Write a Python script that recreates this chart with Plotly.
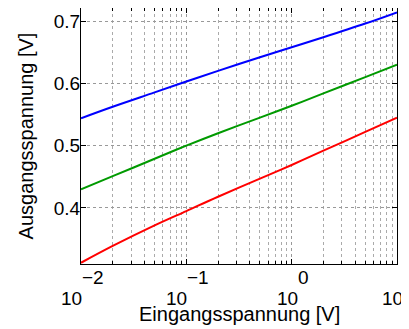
import numpy as np
import plotly.graph_objects as go

# Data
x_in = [0.01, 0.02, 0.05, 0.1, 0.2, 0.5, 1, 2, 5, 10]
v_blue = [0.544, 0.5625, 0.5855, 0.603, 0.620, 0.642, 0.658, 0.674, 0.696, 0.714]
v_green = [0.430, 0.451, 0.479, 0.500, 0.520, 0.545, 0.564, 0.584, 0.610, 0.630]
v_red = [0.312, 0.339, 0.372, 0.395, 0.418, 0.447, 0.469, 0.492, 0.522, 0.545]

x_ticks = [0.01, 0.1, 1, 10]
x_exp = ["\u22122", "\u22121", "0", "1"]
y_ticks = [0.4, 0.5, 0.6, 0.7]
y_ticktext = ["0.4", "0.5", "0.6", "0.7"]
x_title = "Eingangsspannung [V]"
y_title = "Ausgangsspannung [V]"

FONT = "Liberation Sans, Arial, sans-serif"
FS = 19

fig = go.Figure()
for vals, col in [(v_blue, "#0000ff"), (v_green, "#009a00"), (v_red, "#ff0000")]:
    fig.add_trace(go.Scatter(x=x_in, y=vals, mode="lines",
                             line=dict(color=col, width=2, shape="spline", smoothing=1.0),
                             showlegend=False, hoverinfo="skip"))

minor_vals = [m * 10.0 ** d for d in (-2, -1, 0) for m in range(2, 10)]

fig.update_xaxes(type="log", range=[-2, 1], tickvals=x_ticks, showticklabels=False,
                 automargin=False,
                 ticks="inside", ticklen=5, tickcolor="black",
                 showline=True, linecolor="black", linewidth=1, mirror="ticks",
                 showgrid=True, gridcolor="#999999", griddash="dot", gridwidth=1,
                 minor=dict(tickvals=minor_vals, ticks="inside", ticklen=3, tickcolor="black",
                            showgrid=True, gridcolor="#aaaaaa", griddash="dot", gridwidth=1),
                 zeroline=False)
fig.update_yaxes(range=[0.31, 0.721], tickvals=y_ticks, ticktext=y_ticktext,
                 automargin=False,
                 ticks="inside", ticklen=5, tickcolor="black",
                 tickfont=dict(family=FONT, size=FS, color="black"),
                 ticklabelstandoff=-4,
                 showline=True, linecolor="black", linewidth=1, mirror="ticks",
                 showgrid=True, gridcolor="#999999", griddash="dot", gridwidth=1,
                 zeroline=False,
                 title=dict(text=y_title, font=dict(family=FONT, size=20, color="black"),
                            standoff=14))

# x-axis title
fig.add_annotation(x=0.5, xref="paper", y=0, yref="paper", text=x_title,
                   xanchor="center", yanchor="top", yshift=-38, showarrow=False,
                   font=dict(family=FONT, size=20, color="black"), borderpad=0)

# MATLAB-style "10^n" tick labels (exponent above-right of base), centered on tick
digit_w = 0.556 * FS
minus_w = 0.584 * FS
base_w = 2 * digit_w
for v, e in zip(x_ticks, x_exp):
    we = sum(minus_w if ch == "\u2212" else digit_w for ch in e)
    total = base_w + we
    fig.add_annotation(x=np.log10(v), xref="x", y=0, yref="paper", text="10",
                       xanchor="left", yanchor="top", xshift=-total / 2, yshift=-23,
                       showarrow=False, font=dict(family=FONT, size=FS, color="black"),
                       borderpad=0)
    fig.add_annotation(x=np.log10(v), xref="x", y=0, yref="paper", text=e,
                       xanchor="left", yanchor="top", xshift=-total / 2 + base_w, yshift=-2,
                       showarrow=False, font=dict(family=FONT, size=FS, color="black"),
                       borderpad=0)

# page body has an 8px default margin, so the figure is sized to fit inside it
fig.update_layout(width=401, height=321, margin=dict(l=73, r=12, t=0, b=65),
                  paper_bgcolor="white", plot_bgcolor="white",
                  font=dict(family=FONT, size=FS, color="black"))

fig.write_html("out.html")
